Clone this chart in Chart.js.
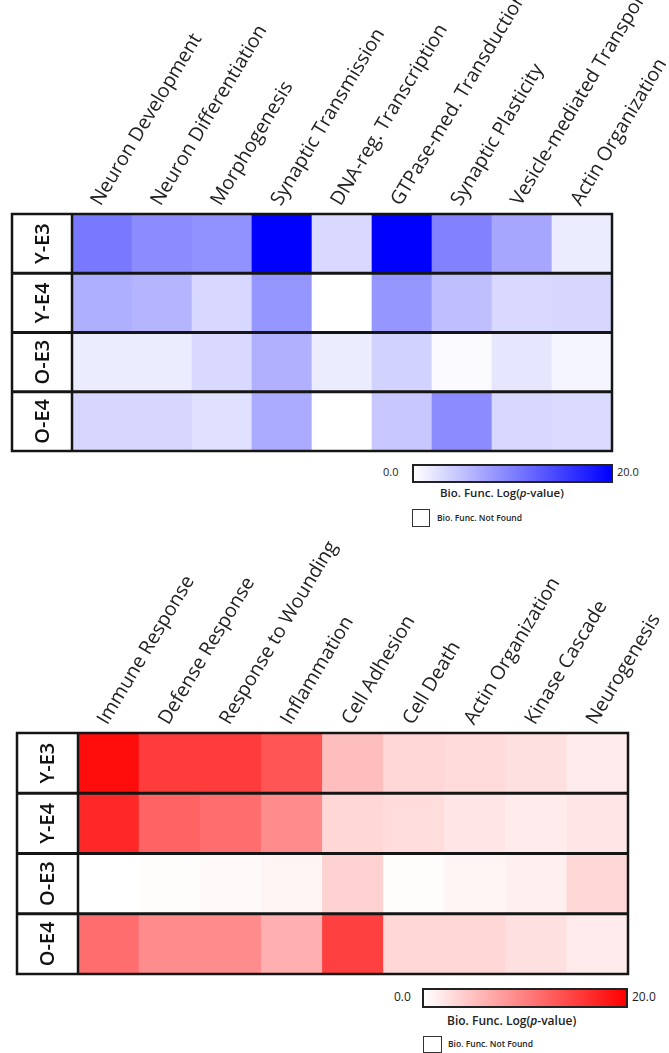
<!DOCTYPE html>
<html>
<head>
<meta charset="utf-8">
<script src="https://cdn.jsdelivr.net/npm/chart.js@4.4.1/dist/chart.umd.min.js"></script>
<style>
    body { margin: 0; background: #fff; width: 669px; height: 1053px; position: relative; overflow: hidden; font-family: "Open Sans", sans-serif; color: #222; }
    canvas { position: absolute; left: 0; }
    .txt { position: absolute; white-space: nowrap; line-height: 1; }
    .bar { position: absolute; border: 2px solid #222; box-sizing: border-box; }
    .box { position: absolute; border: 1.5px solid #333; box-sizing: border-box; }
</style>
</head>
<body>
<canvas id="chartBlue" width="669" height="460" style="top:0"></canvas>
<canvas id="chartRed" width="669" height="440" style="top:540px"></canvas>

<!-- colour scale, top -->
<div class="txt" style="left:383px;top:466px;font-size:11px">0.0</div>
<div class="bar" style="left:412px;top:464px;width:201px;height:19px;background:linear-gradient(to right,#fff,#0000ff)"></div>
<div class="txt" style="left:617px;top:466px;font-size:11px">20.0</div>
<div class="txt" style="left:440px;top:487px;font-size:11.5px;font-weight:600">Bio. Func. Log(<i>p</i>-value)</div>
<div class="box" style="left:412px;top:509px;width:18px;height:18px"></div>
<div class="txt" style="left:437px;top:514px;font-size:8.5px;font-weight:600">Bio. Func. Not Found</div>

<!-- colour scale, bottom -->
<div class="txt" style="left:394px;top:991px;font-size:12px">0.0</div>
<div class="bar" style="left:422px;top:988px;width:206px;height:20px;background:linear-gradient(to right,#fff,#ff0000)"></div>
<div class="txt" style="left:632px;top:991px;font-size:12px">20.0</div>
<div class="txt" style="left:447px;top:1015px;font-size:12px;font-weight:600">Bio. Func. Log(<i>p</i>-value)</div>
<div class="box" style="left:423px;top:1036px;width:19px;height:17px"></div>
<div class="txt" style="left:448px;top:1040px;font-size:8.5px;font-weight:600">Bio. Func. Not Found</div>

<script>
// rows, same for both panels
const rowLabels = ['Y-E3', 'Y-E4', 'O-E3', 'O-E4'];

// top panel (blue), Log(p-value) 0..20
const blueCategories = ['Neuron Development', 'Neuron Differentiation', 'Morphogenesis', 'Synaptic Transmission',
    'DNA-reg. Transcription', 'GTPase-med. Transduction', 'Synaptic Plasticity', 'Vesicle-mediated Transport', 'Actin Organization'];
const blueYE3 = [10.5, 9.0, 8.6, 20.0, 3.0, 20.0, 9.8, 7.0, 1.5];
const blueYE4 = [6.3, 5.9, 3.1, 8.2, 0.0, 8.2, 5.0, 3.0, 3.2];
const blueOE3 = [1.5, 1.5, 3.0, 6.2, 1.5, 3.5, 0.3, 2.0, 0.8];
const blueOE4 = [3.2, 3.2, 2.4, 6.6, 0.0, 4.3, 9.0, 3.1, 2.8];

// bottom panel (red)
const redCategories = ['Immune Response', 'Defense Response', 'Response to Wounding', 'Inflammation',
    'Cell Adhesion', 'Cell Death', 'Actin Organization', 'Kinase Cascade', 'Neurogenesis'];
const redYE3 = [19.0, 15.3, 15.3, 13.3, 5.1, 3.1, 2.8, 2.4, 1.6];
const redYE4 = [16.9, 12.2, 11.4, 9.0, 3.1, 2.7, 2.0, 1.6, 2.0];
const redOE3 = [0.0, 0.2, 0.4, 0.8, 3.5, 0.2, 0.8, 1.2, 3.1];
const redOE4 = [11.4, 9.0, 9.0, 6.3, 15.0, 3.1, 3.1, 2.4, 1.6];

const maxValue = 20;

let blueColour = (v) => {
    let c = Math.round(255 * (1 - Math.min(v, maxValue) / maxValue));
    return 'rgb(' + c + ',' + c + ',255)';
}
let redColour = (v) => {
    let c = Math.round(255 * (1 - Math.min(v, maxValue) / maxValue));
    return 'rgb(255,' + c + ',' + c + ')';
}

// one floating-bar dataset per row, each bar spans its row on the y scale
function heatDatasets(rows, colour) {
    return rows.map(function (vals, r) {
        return {
            label: rowLabels[r],
            data: vals.map(() => [r, r + 1]),
            backgroundColor: vals.map(colour),
            borderWidth: 0,
            barPercentage: 1,
            categoryPercentage: 1,
            grouped: false
        };
    });
}

// frame, row lines and rotated row names
const heatFrame = {
    id: 'heatFrame',
    afterDatasetsDraw(chart, args, opts) {
        const ctx = chart.ctx, a = chart.chartArea, y = chart.scales.y;
        const x0 = a.left - opts.labelWidth;
        ctx.save();
        ctx.strokeStyle = '#151515';
        ctx.lineWidth = 3;
        for (let i = 1; i < rowLabels.length; i++) {
            let py = y.getPixelForValue(i);
            ctx.beginPath();
            ctx.moveTo(x0, py);
            ctx.lineTo(a.right, py);
            ctx.stroke();
        }
        ctx.lineWidth = 2.5;
        ctx.strokeRect(x0, a.top, a.right - x0, a.bottom - a.top);
        ctx.beginPath();
        ctx.moveTo(a.left, a.top);
        ctx.lineTo(a.left, a.bottom);
        ctx.stroke();

        ctx.fillStyle = '#111';
        ctx.font = '600 20px "Open Sans"';
        ctx.textAlign = 'center';
        ctx.textBaseline = 'middle';
        rowLabels.forEach(function (lab, i) {
            ctx.save();
            ctx.translate(x0 + opts.labelWidth / 2 + 1, y.getPixelForValue(i + 0.5));
            ctx.rotate(-Math.PI / 2);
            ctx.fillText(lab, 0, 0);
            ctx.restore();
        });
        ctx.restore();
    }
};

function makeHeatmap(canvasId, categories, rows, colour, box) {
    return new Chart(document.getElementById(canvasId), {
        type: 'bar',
        data: { labels: categories, datasets: heatDatasets(rows, colour) },
        plugins: [heatFrame],
        options: {
            responsive: false,
            animation: false,
            layout: { padding: { left: box.left, right: box.right, top: 0, bottom: box.bottom } },
            plugins: {
                legend: { display: false },
                tooltip: { enabled: false },
                heatFrame: { labelWidth: box.labelWidth }
            },
            scales: {
                x: {
                    type: 'category',
                    position: 'top',
                    grid: { display: false },
                    border: { display: false },
                    ticks: {
                        autoSkip: false,
                        minRotation: 59,
                        maxRotation: 59,
                        padding: -4,
                        labelOffset: 14,
                        color: '#222',
                        font: { family: 'Open Sans', size: 19.5 }
                    },
                    afterFit: function (scale) {
                        scale.height = box.top;
                        scale.paddingLeft = 0;
                        scale.paddingRight = 0;
                    }
                },
                y: { type: 'linear', min: 0, max: rowLabels.length, reverse: true, display: false }
            }
        }
    });
}

makeHeatmap('chartBlue', blueCategories, [blueYE3, blueYE4, blueOE3, blueOE4], blueColour,
    { left: 72, right: 57, top: 214, bottom: 9, labelWidth: 60 });
makeHeatmap('chartRed', redCategories, [redYE3, redYE4, redOE3, redOE4], redColour,
    { left: 78, right: 41, top: 193, bottom: 6, labelWidth: 61 });
</script>
</body>
</html>
